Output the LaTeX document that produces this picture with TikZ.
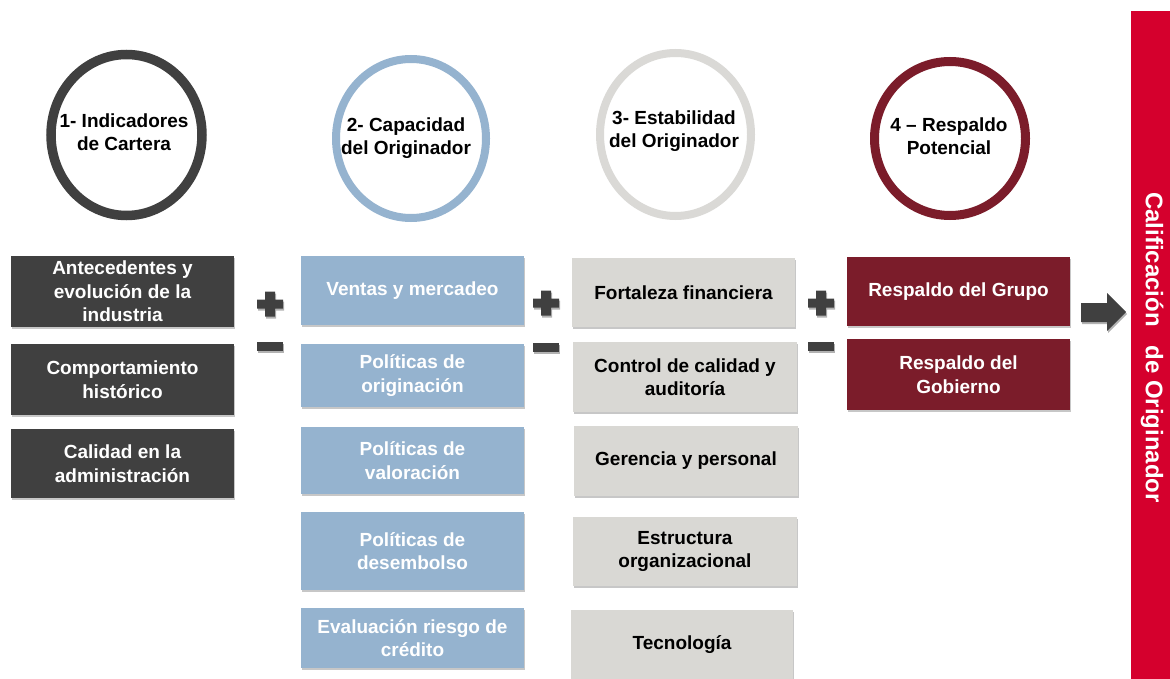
\documentclass[tikz,border=0pt]{standalone}
\usepackage{fontspec}
\setmainfont{Liberation Sans}
\usetikzlibrary{shapes.geometric,shadows}
\definecolor{cdark}{HTML}{404040}
\definecolor{cblue}{HTML}{95B3CF}
\definecolor{cgray}{HTML}{D9D8D4}
\definecolor{cring}{HTML}{DAD9D6}
\definecolor{cwine}{HTML}{7B1C2A}
\definecolor{cred}{HTML}{D5002D}
\begin{document}
\begin{tikzpicture}[x=1pt,y=-1pt,
  shd/.style={drop shadow={shadow xshift=1pt, shadow yshift=-1.5pt, opacity=0.22, fill=black}},
  ctext/.style={font=\fontsize{19}{23}\selectfont\bfseries, align=center, inner sep=0, text=black},
  bx/.style={rectangle, inner sep=0, minimum width=223pt, align=center, shd, font=\fontsize{19}{23.5}\selectfont\bfseries},
  dk/.style={bx, fill=cdark, text=white},
  bl/.style={bx, fill=cblue, text=white},
  gr/.style={bx, fill=cgray, text=black},
  rd/.style={bx, fill=cwine, text=white},
  ring/.style={ellipse, inner sep=0, fill=white, drop shadow={shadow xshift=1.5pt, shadow yshift=-2pt, opacity=0.18, fill=black}},
  sign/.style={fill=cdark, drop shadow={shadow xshift=1pt, shadow yshift=-2pt, opacity=0.3, fill=black}},
]
\useasboundingbox (0,0) rectangle (1170,679);

% circles
\node[ring, draw=cdark, line width=9.5pt, minimum width=151pt, minimum height=161pt] (c1) at (126.5,135) {};
\node[ctext] (c1t) at (124,132.5) {1- Indicadores\\de Cartera};
\node[ring, draw=cblue, line width=8pt, minimum width=150pt, minimum height=159pt] (c2) at (411,138.5) {};
\node[ctext] (c2t) at (406,138.5) {2- Capacidad\\del Originador};
\node[ring, draw=cring, line width=8pt, minimum width=151pt, minimum height=163pt] (c3) at (675.5,134.5) {};
\node[ctext] (c3t) at (674,131) {3- Estabilidad\\del Originador};
\node[ring, draw=cwine, line width=9pt, minimum width=151pt, minimum height=154pt] (c4) at (950,138.5) {};
\node[ctext] (c4t) at (949,136.5) {4 -- Respaldo\\Potencial};

% column 1
\node[dk, minimum height=71pt] (a1) at (122.5,291.5) {Antecedentes y\\evolución de la\\industria};
\node[dk, minimum height=71pt] (a2) at (122.5,379.5) {Comportamiento\\histórico};
\node[dk, minimum height=69pt] (a3) at (122.5,463.5) {Calidad en la\\administración};

% column 2
\node[bl, minimum height=69pt] (b1) at (412.5,290.5) {Ventas y mercadeo};
\node[bl, minimum height=63pt] (b2) at (412.5,375.5) {Políticas de\\originación};
\node[bl, minimum height=67pt] (b3) at (412.5,460.5) {Políticas de\\valoración};
\node[bl, minimum height=78pt] (b4) at (412.5,551) {Políticas de\\desembolso};
\node[bl, minimum height=60pt] (b5) at (412.5,638) {Evaluación riesgo de\\crédito};

% column 3
\node[gr, minimum height=69pt] (g1) at (683.5,292.5) {Fortaleza financiera};
\node[gr, minimum width=224pt, minimum height=70pt] (g2) at (685,377) {Control de calidad y\\auditoría};
\node[gr, minimum width=224pt, minimum height=70pt] (g3) at (686,461) {Gerencia y personal};
\node[gr, minimum width=224pt, minimum height=69pt] (g4) at (685,551.5) {Estructura\\organizacional};
\node[gr, minimum width=222pt, minimum height=69pt] (g5) at (682,644.5) {Tecnología};

% column 4
\node[rd, minimum height=69pt] (r1) at (958.5,291.5) {Respaldo del Grupo};
\node[rd, minimum height=71pt] (r2) at (958.5,374.5) {Respaldo del\\Gobierno};

% plus / minus signs
\foreach \cx/\py/\my in {270/304/346.5, 546/303/347, 821/303/346}{
  \fill[sign] (\cx-5,\py-12.5) -- (\cx+5,\py-12.5) -- (\cx+5,\py-4.5) -- (\cx+13,\py-4.5)
     -- (\cx+13,\py+4.5) -- (\cx+5,\py+4.5) -- (\cx+5,\py+12.5) -- (\cx-5,\py+12.5)
     -- (\cx-5,\py+4.5) -- (\cx-13,\py+4.5) -- (\cx-13,\py-4.5) -- (\cx-5,\py-4.5) -- cycle;
  \fill[sign] (\cx-13,\my-4.5) rectangle (\cx+13,\my+4.5);
}

% red bar
\node[rectangle, fill=cred, inner sep=0, minimum width=39pt, minimum height=668pt] (bar) at (1150.5,345) {};
\node[rotate=-90, text=white, inner sep=0, font=\fontsize{24}{28}\selectfont\bfseries] (bart) at (1152,347.5) {Calificación\hspace{12pt} de Originador};

% arrow
\fill[sign] (1081,303) -- (1107,303) -- (1107,293) -- (1126,312) -- (1107,331) -- (1107,322) -- (1081,322) -- cycle;
\end{tikzpicture}
\end{document}
